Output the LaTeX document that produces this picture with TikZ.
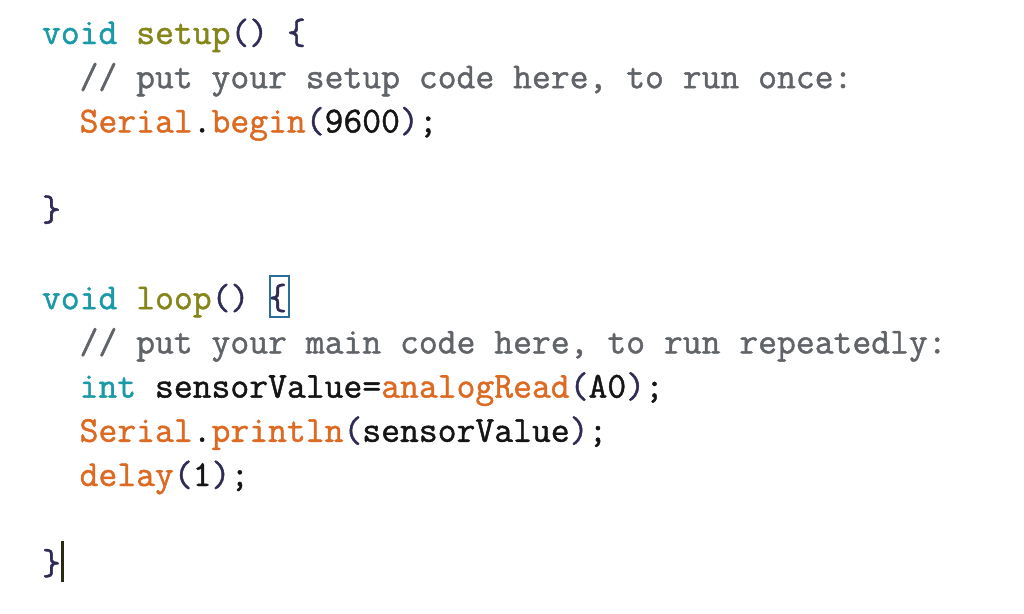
\documentclass[tikz,border=0pt]{standalone}
\usepackage{fontspec}
\newfontfamily\codefont{Latin Modern Mono}[FakeBold=1.2]
\definecolor{kwtype}{HTML}{1A9AA6}
\definecolor{kwfunc}{HTML}{85861A}
\definecolor{fnorange}{HTML}{DD6A22}
\definecolor{comgray}{HTML}{606468}
\definecolor{plain}{HTML}{151515}
\definecolor{brack}{HTML}{2E2C55}
\definecolor{hlbox}{HTML}{2A6F9A}
\definecolor{cursorc}{HTML}{2A2A12}
\newcommand{\Ty}[1]{\textcolor{kwtype}{#1}}
\newcommand{\Fn}[1]{\textcolor{kwfunc}{#1}}
\newcommand{\Or}[1]{\textcolor{fnorange}{#1}}
\newcommand{\Br}[1]{\textcolor{brack}{#1}}
\begin{document}
\begin{tikzpicture}[x=1pt,y=-1pt,
  codeline/.style={anchor=base west,inner sep=0pt,outer sep=0pt,text=plain,
    font=\codefont\fontsize{36.6}{44}\selectfont\frenchspacing}]
\useasboundingbox[fill=white] (0,0) rectangle (1024,613);
\def\cw{18.8}
\def\lp{44.2}
\def\bz{44}
\node[codeline] (l0) at (42,\bz) {\Ty{void} \Fn{setup}\Br{()} \Br{\{}};
\node[codeline,text=comgray] (l1) at (42+2*\cw,\bz+1*\lp) {// put your setup code here, to run once:};
\node[codeline] (l2) at (42+2*\cw,\bz+2*\lp) {\Or{Serial}.\Or{begin}\Br{(}9600\Br{)};};
\node[codeline] (l4) at (42,\bz+4*\lp) {\Br{\}}};
\node[codeline] (l6) at (42,\bz+6*\lp) {\Ty{void} \Fn{loop}\Br{()} \Br{\{}};
\node[codeline,text=comgray] (l7) at (42+2*\cw,\bz+7*\lp) {// put your main code here, to run repeatedly:};
\node[codeline] (l8) at (42+2*\cw,\bz+8*\lp) {\Ty{int} sensorValue=\Or{analogRead}\Br{(}A0\Br{)};};
\node[codeline] (l9) at (42+2*\cw,\bz+9*\lp) {\Or{Serial}.\Or{println}\Br{(}sensorValue\Br{)};};
\node[codeline] (l10) at (42+2*\cw,\bz+10*\lp) {\Or{delay}\Br{(}1\Br{)};};
\node[codeline] (l12) at (42,\bz+12*\lp) {\Br{\}}};
% matching-brace highlight
\draw[hlbox,line width=1.5pt] (270,276) rectangle (289,317);
% text cursor
\draw[cursorc,line width=3pt] (62,541) -- (62,582);
\end{tikzpicture}
\end{document}
